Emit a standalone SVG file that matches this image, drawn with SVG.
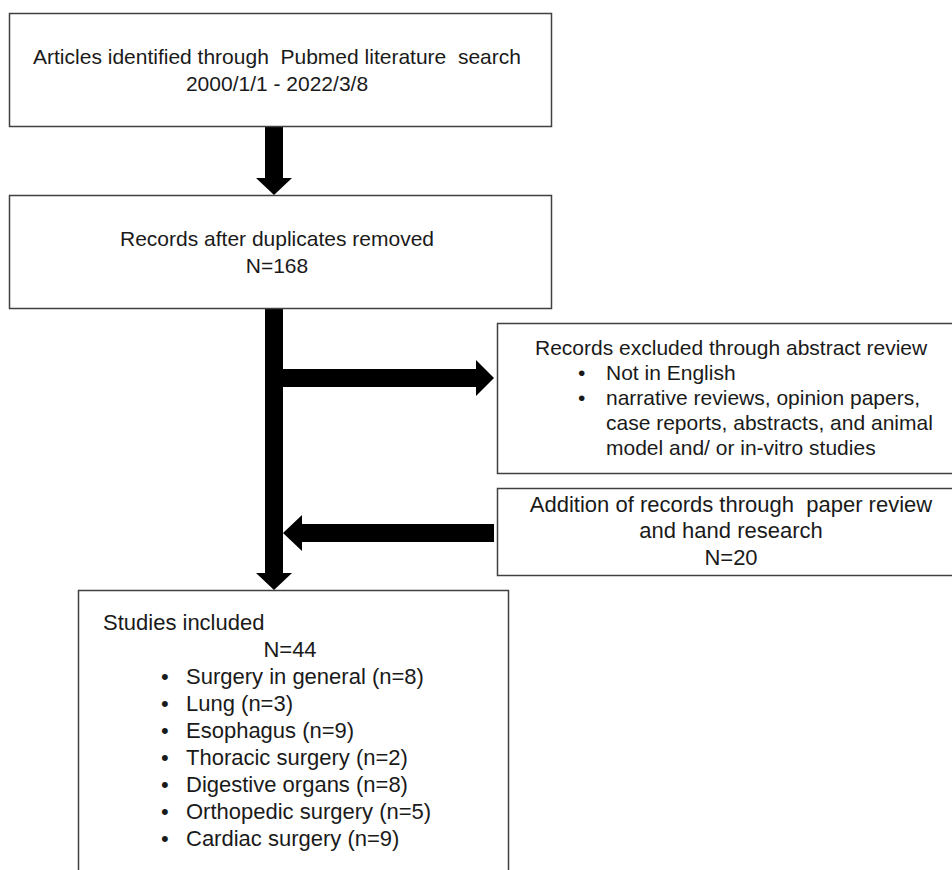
<svg xmlns="http://www.w3.org/2000/svg" width="952" height="870" viewBox="0 0 952 870">
<style>
.box{fill:#fff;stroke:#404040;stroke-width:1.5}
.t{font-family:"Liberation Sans",Arial,sans-serif;fill:#1a1a1a}
.c{text-anchor:middle}
.f21{font-size:21px}
.f22{font-size:22px}
.arrow{fill:#000}
</style>
<rect width="952" height="870" fill="#fff"/>
<g id="connectors">
<polygon class="arrow" points="265,126 283,126 283,178 292,178 274,195 256,178 265,178"/>
<polygon class="arrow" points="265,308 283,308 283,369 476,369 476,360 494,378 476,396 476,387 283,387 283,573 292,573 274,590 256,573 265,573"/>
<polygon class="arrow" points="494,524 494,542 302,542 302,551 283,533 302,515 302,524"/>
</g>
<g id="n1">
<rect class="box" x="9.5" y="13.5" width="542" height="113"/>
<text class="t f21 c" x="277" y="64" xml:space="preserve">Articles identified through  Pubmed literature  search</text>
<text class="t f21 c" x="277" y="91">2000/1/1 - 2022/3/8</text>
</g>
<g id="n2">
<rect class="box" x="9.5" y="195.5" width="542" height="113"/>
<text class="t f21 c" x="277" y="246">Records after duplicates removed</text>
<text class="t f21 c" x="277" y="273">N=168</text>
</g>
<g id="n3">
<rect class="box" x="497.5" y="323.5" width="460" height="150"/>
<text class="t f21" x="535" y="355">Records excluded through abstract review</text>
<text class="t f21" x="578" y="380">•</text>
<text class="t f21" x="606" y="380">Not in English</text>
<text class="t f21" x="578" y="405">•</text>
<text class="t f21" x="606" y="405">narrative reviews, opinion papers,</text>
<text class="t f21" x="606" y="430">case reports, abstracts, and animal</text>
<text class="t f21" x="606" y="455">model and/ or in-vitro studies</text>
</g>
<g id="n4">
<rect class="box" x="497.5" y="488.5" width="460" height="87"/>
<text class="t f22 c" x="731" y="512" xml:space="preserve">Addition of records through  paper review</text>
<text class="t f22 c" x="731" y="538">and hand research</text>
<text class="t f22 c" x="731" y="565">N=20</text>
</g>
<g id="n5">
<path class="box" d="M78.5,880 V590.5 H508.5 V880"/>
<text class="t f22" x="103" y="630">Studies included</text>
<text class="t f22 c" x="290" y="657">N=44</text>
<g class="t f22">
<text x="161" y="684">•</text><text x="186" y="684">Surgery in general (n=8)</text>
<text x="161" y="711">•</text><text x="186" y="711">Lung (n=3)</text>
<text x="161" y="738">•</text><text x="186" y="738">Esophagus (n=9)</text>
<text x="161" y="765">•</text><text x="186" y="765">Thoracic surgery (n=2)</text>
<text x="161" y="792">•</text><text x="186" y="792">Digestive organs (n=8)</text>
<text x="161" y="819">•</text><text x="186" y="819">Orthopedic surgery (n=5)</text>
<text x="161" y="846">•</text><text x="186" y="846">Cardiac surgery (n=9)</text>
</g>
</g>
</svg>
